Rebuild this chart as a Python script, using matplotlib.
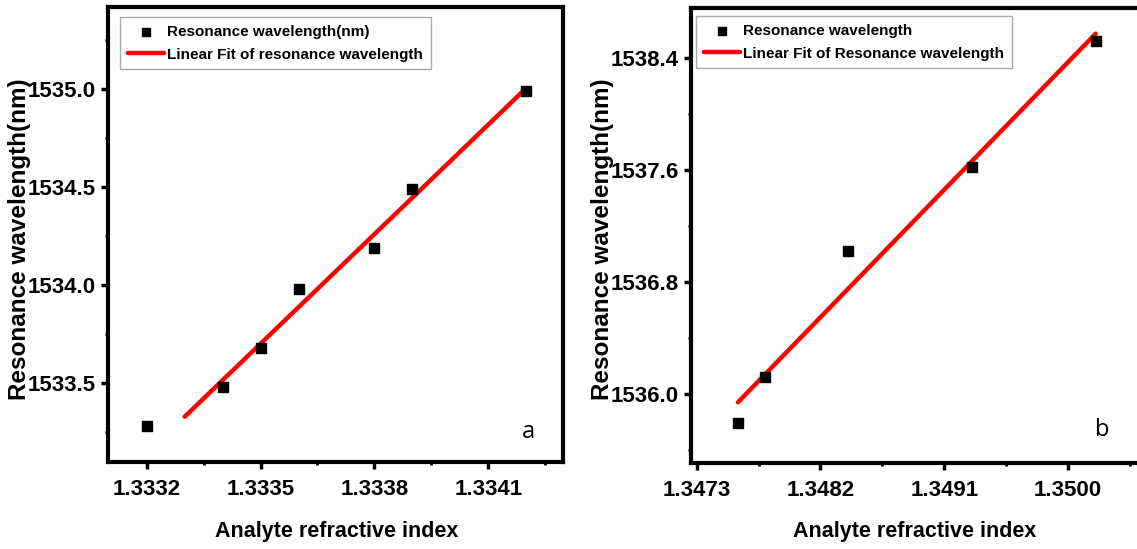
import numpy as np
import matplotlib
matplotlib.use('Agg')
import matplotlib.pyplot as plt
from matplotlib.ticker import MultipleLocator, FormatStrFormatter

# panel a
ri_a = [1.3332, 1.3334, 1.3335, 1.3336, 1.3338, 1.3339, 1.3342]
wl_a = [1533.28, 1533.48, 1533.68, 1533.98, 1534.19, 1534.49, 1534.99]
fit_range_a = [1.3333, 1.3342]
# panel b
ri_b = [1.3476, 1.3478, 1.3484, 1.3493, 1.3502]
wl_b = [1535.79, 1536.12, 1537.02, 1537.62, 1538.52]
fit_range_b = [1.3476, 1.3502]

FONT = 'Liberation Sans'
W, H = 1137, 549
fig = plt.figure(figsize=(W/100, H/100), dpi=100)

panels = [
    dict(pos=[108/W, 1-462/H, 455/W, 455/H], x=ri_a, y=wl_a, fit_x=fit_range_a, fit_pts=slice(1, None),
         xlim=(1.333098, 1.334297), ylim=(1533.097, 1535.418), xmaj=0.0003, ymaj=0.5,
         xticks=[1.3332, 1.3335, 1.3338, 1.3341],
         leg=('Resonance wavelength(nm)', 'Linear Fit of resonance wavelength'),
         leg_anchor=(120/W, 1-17/H), tag='a', tag_pos=(528/W, 1-432/H),
         ylab_x=20/W, xlab_x=337/W),
    dict(pos=[691/W, 1-463/H, 455/W, 455/H], x=ri_b, y=wl_b, fit_x=fit_range_b, fit_pts=slice(None),
         xlim=(1.347259, 1.350566), ylim=(1535.507, 1538.757), xmaj=0.0009, ymaj=0.8,
         xticks=[1.3473, 1.3482, 1.3491, 1.3500],
         leg=('Resonance wavelength', 'Linear Fit of Resonance wavelength'),
         leg_anchor=(696/W, 1-16/H), tag='b', tag_pos=(1102/W, 1-430/H),
         ylab_x=603/W, xlab_x=915/W),
]

for p in panels:
    ax = fig.add_axes(p['pos'])
    x = np.array(p['x']); y = np.array(p['y'])
    sc = ax.scatter(x, y, marker='s', s=52, color='black', zorder=3)
    # fitted line (panel a fit leaves out the first point)
    k, b = np.polyfit(x[p['fit_pts']], y[p['fit_pts']], 1)
    fx = np.array(p['fit_x'])
    ln, = ax.plot(fx, k*fx + b, color='#ff0000', lw=3.2, solid_capstyle='round', zorder=2)
    ax.set_xlim(*p['xlim']); ax.set_ylim(*p['ylim'])
    ax.set_xticks(p['xticks'])
    ax.xaxis.set_major_formatter(FormatStrFormatter('%.4f'))
    ax.xaxis.set_minor_locator(MultipleLocator(p['xmaj']/2))
    ax.yaxis.set_major_locator(MultipleLocator(p['ymaj']))
    ax.yaxis.set_minor_locator(MultipleLocator(p['ymaj']/2))
    ax.yaxis.set_major_formatter(FormatStrFormatter('%.1f'))
    for s in ax.spines.values():
        s.set_linewidth(3)
    ax.tick_params(which='major', length=5, width=2.5, direction='out')
    ax.tick_params(which='minor', length=2.5, width=2, direction='out')
    ax.tick_params(top=False, right=False, which='both')
    for lab in ax.get_xticklabels() + ax.get_yticklabels():
        lab.set_fontfamily(FONT); lab.set_fontweight('bold'); lab.set_fontsize(16)
    ax.tick_params(axis='x', pad=7)
    ax.tick_params(axis='y', pad=4)
    fig.text(p['ylab_x'], 1-239/H, 'Resonance wavelength(nm)', rotation=90,
             ha='center', va='center', fontsize=17.5, fontweight='bold', family=FONT)
    fig.text(p['xlab_x'], 1-531/H, 'Analyte refractive index', ha='center', va='center',
             fontsize=15.5, fontweight='bold', family=FONT)
    leg = ax.legend([sc, ln], list(p['leg']), loc='upper left', bbox_to_anchor=p['leg_anchor'],
                    bbox_transform=fig.transFigure, borderaxespad=0, fancybox=False,
                    prop={'family': FONT, 'weight': 'bold', 'size': 11}, handlelength=2.4,
                    handletextpad=0.2, borderpad=0.5, labelspacing=0.6, framealpha=1,
                    markerscale=0.85)
    leg.get_frame().set_edgecolor('#aaaaaa')
    leg.get_frame().set_linewidth(1)
    fig.text(*p['tag_pos'], p['tag'], ha='center', va='center', fontsize=17, family='Open Sans')

fig.savefig('out.png', dpi=100)
